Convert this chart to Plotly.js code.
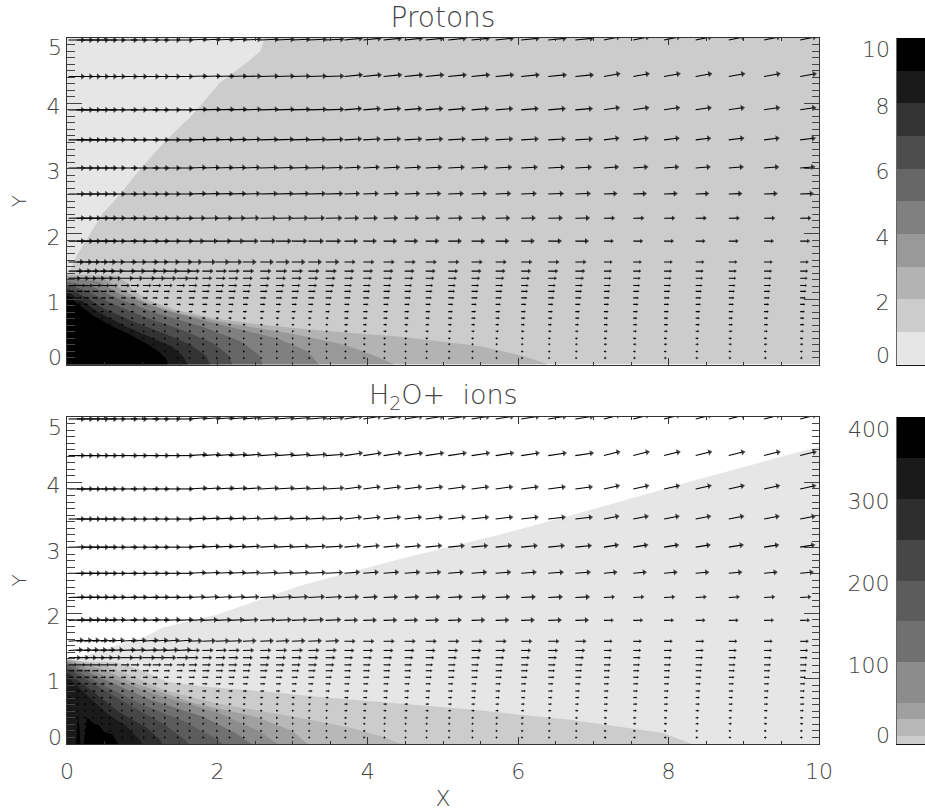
<!DOCTYPE html>
<html><head><meta charset="utf-8">
<script src="https://cdn.plot.ly/plotly-3.0.1.min.js"></script>
<style>html,body{margin:0;padding:0;background:#fff;overflow:hidden}</style></head>
<body><div id="chart" style="width:925px;height:811px"></div>
<script>
// ---- vector grid
const gridX = [.02,.13,.23,.34,.45,.56,.72,.85,1.01,1.14,1.29,1.46,1.62,1.80,1.98,2.15,2.34,2.57,2.78,2.99,3.21,3.44,3.69,3.94,4.21,4.49,4.77,5.07,5.38,5.70,6.04,6.40,6.76,7.14,7.53,7.94,8.36,8.80,9.27,9.75];
const gridY = [4.97,4.41,3.90,3.44,3.01,2.61,2.24,1.89,1.57,1.43,1.32,1.21,1.12,1.02,.92,.81,.71,.61,.51,.40,.31,.20,.10];
// column zones: x<1.5, 1.5-3.5, 3.5-7, >7
const zoneEdges = [1.5,3.5,7];
const speed = [[14,16,16,14],[14,16,16,14],[14,16,15,13.5],[14,15.5,15,13],[14,15,14,12.5],[14,15,13,11],[14,14,12,9],[14,13,11,8],[13,11,9,7],[12,9,8,6.5],[10,8,7,6],[7,7,6,5.5],[5,6,5.5,5],[4,5,5,4.5],[3,4,4,4],[2,3,3.5,3.5],[1.5,2,3,3],[1.2,1.5,2.5,3],[1,1.2,2,2.5],[1,1,1.5,2],[1,1,1.2,2],[1,1,1.2,1.5],[1,1,1,1.5]];
const slopeProton = [[0,.04,.1,.2],[0,.03,.1,.18],[0,.03,.08,.15],[0,.03,.06,.12],[0,.03,.05,.08],[.01,.03,.04,.04],[.01,.02,.02,.01]];
const slopeWater = [[0,.08,.15,.25],[0,.07,.15,.25],[0,.06,.13,.22],[0,.06,.12,.2],[0,.06,.1,.16],[0,.05,.08,.1],[.03,.05,.05,.06],[.05,.05,.03,.02],[.08,.05,.01,0],[.05,.03,0,0]];

// ---- Protons: band colours and outer boundaries, lightest first
const protonFloorX = [0,10,10,0];
const protonFloorY = [0,0,5,5];
const protonColors = ['#b3b3b3','#999999','#808080','#666666','#4d4d4d','#333333','#1a1a1a','#000000'];
const protonBandX = [
 [0,.66,.8,.88,1.10,1.46,1.99,2.66,3.36,4.4,5.5,6.1,6.4],
 [0,.5,.75,1.05,1.5,2.2,3,3.7,4.1,4.35],
 [0,.42,.7,1.3,2.0,2.8,3.2,3.35],
 [0,.33,.7,1.2,1.8,2.3,2.55,2.6],
 [0,.27,.6,1.05,1.55,1.95,2.15,2.2],
 [0,.22,.5,.9,1.3,1.65,1.85,1.9],
 [0,.2,.45,.75,1.1,1.4,1.55,1.6],
 [0,.17,.35,.57,.80,1.06,1.24,1.33,1.34]];
const protonBandY = [
 [1.38,1.36,1.25,1.13,.98,.83,.70,.60,.52,.43,.28,.12,0],
 [1.35,1.31,1.13,.95,.78,.62,.47,.3,.13,0],
 [1.32,1.27,1.08,.83,.62,.4,.2,0],
 [1.27,1.2,1.0,.78,.58,.36,.15,0],
 [1.22,1.12,.93,.72,.52,.32,.14,0],
 [1.17,1.05,.85,.65,.47,.30,.13,0],
 [1.12,.97,.78,.60,.42,.27,.12,0],
 [1.06,.90,.75,.60,.48,.32,.18,.06,0]];
const protonUpperX = [0,2.63,2.57,2.39,2.26,2.03,1.86,1.64,1.37,1.10,.93,.68,.48,.28,.13,.01,0];
const protonUpperY = [5,5,4.80,4.62,4.51,4.31,4.08,3.79,3.49,3.16,2.93,2.57,2.32,1.95,1.67,1.36,1.36];

// ---- H2O+: band colours and outer boundaries, lightest first
const waterColors = ['#cccccc','#b8b8b8','#a0a0a0','#8c8c8c','#707070','#5c5c5c','#474747','#2e2e2e','#1a1a1a','#000000'];
const waterBandX = [
 [0,.66,.97,1.33,1.8,2.66,3.36,5.34,6.69,7.93,8.31],
 [0,.5,.9,1.3,2.0,3.1,3.77,4.2,4.44],
 [0,.45,.85,1.7,2.5,3.0,3.2],
 [0,.6,1.2,2.0,2.55,2.8],
 [0,.5,1.1,1.8,2.25,2.45],
 [0,.45,1.0,1.55,1.95,2.07],
 [0,.42,.9,1.3,1.55,1.62],
 [0,.35,.69,1.06,1.24,1.27],
 [0,.27,.53,.8,.97,1.0],
 [.12,.15,.18,.22,.27,.36,.42,.5,.6,.68]];
const waterBandY = [
 [1.27,1.25,1.14,.95,.88,.8,.72,.53,.37,.17,0],
 [1.3,1.2,1.02,.82,.62,.4,.25,.11,0],
 [1.29,1.15,.95,.62,.42,.2,0],
 [1.27,1.0,.75,.48,.2,0],
 [1.24,.98,.68,.42,.16,0],
 [1.2,.92,.6,.35,.1,0],
 [1.16,.88,.55,.3,.08,0],
 [1.1,.8,.49,.25,.06,0],
 [1.03,.75,.47,.26,.06,0],
 [0,.44,0,0,.41,.3,.3,.18,.15,0]];
const waterUpperX = [0,.3,.61,1.01,1.28,2.0,3.1,4.43,5.75,7.09,8.4,9.75,10,10,0];
const waterUpperY = [1.3,1.37,1.49,1.63,1.78,1.98,2.42,2.83,3.2,3.62,4.05,4.48,4.55,0,0];

// ---- colour bars
const protonLevels = [0,1,2,3,4,5,6,7,8,9,10];
const protonBarColors = ['#e6e6e6','#cccccc','#b3b3b3','#999999','#808080','#666666','#4d4d4d','#333333','#1a1a1a','#000000'];
const waterLevels = [0,10,30,50,100,150,200,250,300,350,400];
const waterBarColors = ['#cccccc','#b8b8b8','#a0a0a0','#8c8c8c','#707070','#5c5c5c','#474747','#2e2e2e','#1a1a1a','#000000'];

// ---- tick labels
const xTicks = [0,2,4,6,8,10];
const yTicks = [1,2,3,4];
const bar1Ticks = [2,4,6,8];
const bar2Ticks = [100,200,300];

const W=925,H=811;
const FONT='"DejaVu Sans",sans-serif';
const INK='#444444';
const px=v=>v/W, py=v=>1-v/H;
const scaleX=1/75.2, scaleY=1/65.2;

function polyTrace(xs,ys,color,ax,ay,closeOrigin){
  const X=xs.slice(),Y=ys.slice();
  if(closeOrigin){X.push(0);Y.push(0);}
  return {type:'scatter',mode:'lines',x:X,y:Y,fill:'toself',fillcolor:color,line:{width:0,color:color},xaxis:ax,yaxis:ay,hoverinfo:'skip',showlegend:false};
}
function zoneOf(x){let i=0;while(i<zoneEdges.length&&x>=zoneEdges[i])i++;return i;}
function arrows(slopes,ax,ay){
  const lx=[],ly=[],hx=[],hy=[],ang=[],sz=[];
  gridY.forEach((y0,r)=>{
    gridX.forEach(x0=>{
      const z=zoneOf(x0),s=speed[r][z],m=(slopes[r]||[0,0,0,0])[z];
      const x1=x0+s*scaleX,y1=y0+s*m*scaleY;
      lx.push(x0,x1,null);ly.push(y0,y1,null);
      hx.push(x1);hy.push(y1);
      ang.push(-Math.atan(m)*180/Math.PI);
      sz.push(Math.max(2.5,Math.min(5.5,s*0.5)));
    });
  });
  return [
   {type:'scatter',mode:'lines',x:lx,y:ly,line:{color:'#000',width:1.1},xaxis:ax,yaxis:ay,hoverinfo:'skip',showlegend:false},
   {type:'scatter',mode:'markers',x:hx,y:hy,marker:{symbol:'triangle-right',size:sz,angle:ang,color:'#000',line:{width:0}},xaxis:ax,yaxis:ay,hoverinfo:'skip',showlegend:false}
  ];
}
function barTrace(levels,colors,ax,ay){
  const h=colors.map((c,i)=>levels[i+1]-levels[i]);
  return {type:'bar',x:colors.map(()=>0),y:h,base:levels.slice(0,-1),width:1,marker:{color:colors,line:{width:0}},xaxis:ax,yaxis:ay,hoverinfo:'skip',showlegend:false};
}

const traces=[
  polyTrace(protonFloorX,protonFloorY,'#cccccc','x','y',false),
  polyTrace(protonUpperX,protonUpperY,'#e6e6e6','x','y',false),
  ...protonBandX.map((xs,i)=>polyTrace(xs,protonBandY[i],protonColors[i],'x','y',true)),
  ...arrows(slopeProton,'x','y'),
  polyTrace(waterUpperX,waterUpperY,'#e6e6e6','x2','y2',false),
  ...waterBandX.map((xs,i)=>polyTrace(xs,waterBandY[i],waterColors[i],'x2','y2',true)),
  ...arrows(slopeWater,'x2','y2'),
  barTrace(protonLevels,protonBarColors,'x3','y3'),
  barTrace(waterLevels,waterBarColors,'x4','y4')
];

const tf={family:FONT,size:22,color:INK,weight:200};
function mainX(top,labels){
  return {domain:[px(67),px(819)],range:[0,10],tickmode:'array',tickvals:xTicks,ticktext:xTicks.map(String),showticklabels:labels,
    ticks:'inside',ticklen:7,tickwidth:1,tickcolor:'#333',showline:true,linecolor:'#333',linewidth:1,mirror:'ticks',showgrid:false,zeroline:false,
    minor:{dtick:.5,ticks:'inside',ticklen:3,tickwidth:1,tickcolor:'#333',showgrid:false},tickfont:tf,ticklabelstandoff:8,
    title:labels?{text:'X',font:{family:FONT,size:22,color:INK,weight:200},standoff:8}:undefined};
}
function mainY(dom){
  return {domain:dom,range:[0,5],tickmode:'array',tickvals:yTicks,
    ticks:'inside',ticklen:15,tickwidth:1,tickcolor:'#444',showline:true,linecolor:'#333',linewidth:1,mirror:'ticks',showgrid:false,zeroline:false,
    minor:{dtick:.1,ticks:'inside',ticklen:7.5,tickwidth:1,tickcolor:'#444',showgrid:false},tickfont:tf,ticklabelstandoff:1,ticklabelshift:3,
    title:{text:'Y',font:{family:FONT,size:20,color:INK,weight:200},standoff:14}};
}
function barX(dom,anchor){return {domain:dom,range:[-.5,.5],showticklabels:false,ticks:'',showgrid:false,zeroline:false,showline:true,linecolor:'#111',linewidth:1,anchor:anchor};}
function barY(dom,range,vals,anchor){return {domain:dom,range:range,tickmode:'array',tickvals:vals,ticks:'',showgrid:false,zeroline:false,showline:true,linecolor:'#666',linewidth:1,tickfont:tf,ticklabelstandoff:2,ticklabelshift:3,anchor:anchor};}

const dom1=[py(364.5),py(38)],dom2=[py(744),py(417)];
const barDom=[px(897),1];
function endLabel(text,xp,yr,y,shift){return {text:text,xref:'paper',x:px(xp),xanchor:'right',yref:yr,y:y,yanchor:'middle',yshift:shift,showarrow:false,font:tf};}
const layout={
  width:W,height:H,margin:{l:0,r:0,t:0,b:0},paper_bgcolor:'#fff',plot_bgcolor:'rgba(0,0,0,0)',showlegend:false,barmode:'overlay',bargap:0,
  title:{text:'Protons',x:px(443),xanchor:'center',y:py(17),yanchor:'middle',font:{family:FONT,size:28,color:INK,weight:200}},
  xaxis:{...mainX(true,false),anchor:'y'},yaxis:{...mainY(dom1),anchor:'x'},
  xaxis2:{...mainX(false,true),anchor:'y2'},yaxis2:{...mainY(dom2),anchor:'x2'},
  xaxis3:barX(barDom,'y3'),yaxis3:barY(dom1,[0,10],bar1Ticks,'x3'),
  xaxis4:barX(barDom,'y4'),yaxis4:barY(dom2,[0,400],bar2Ticks,'x4'),
  annotations:[
    {text:'H<sub>2</sub>O+&nbsp;&nbsp;ions',xref:'paper',yref:'paper',x:px(443),y:py(396),xanchor:'center',yanchor:'middle',showarrow:false,font:{family:FONT,size:27,color:INK,weight:200}},
    endLabel('0',64,'y',0,7),endLabel('5',64,'y',5,-10),
    endLabel('0',64,'y2',0,7),endLabel('5',64,'y2',5,-10),
    endLabel('0',892,'y3',0,9),endLabel('10',892,'y3',10,-12),
    endLabel('0',892,'y4',0,9),endLabel('400',892,'y4',400,-12)
  ]
};
Plotly.newPlot('chart',traces,layout,{staticPlot:true,displayModeBar:false});
</script></body></html>
